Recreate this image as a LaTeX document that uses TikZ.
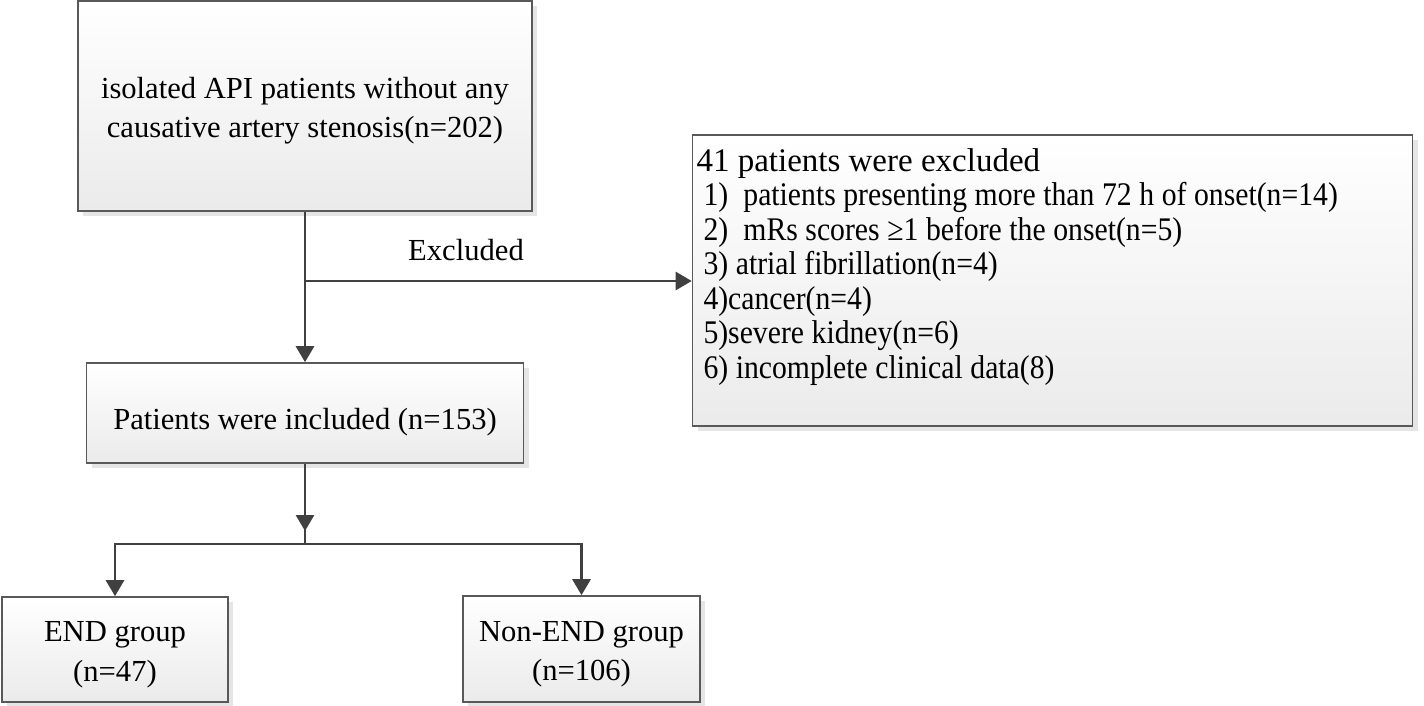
\documentclass[tikz,border=0pt]{standalone}
\usepackage{fontspec}
\setmainfont{Liberation Serif}
\newfontfamily\narrowserif{Liberation Serif}[FakeStretch=0.9]
\usetikzlibrary{arrows.meta,shadows}
\newcommand{\boxtext}[2][2pt]{\raisebox{-#1}[\height][\depth]{\begin{tabular}{@{}c@{}}#2\end{tabular}}}
\begin{document}
\begin{tikzpicture}[x=0.5pt,y=-0.5pt,
  box/.style={draw=black!65,line width=0.8pt,top color=white,bottom color=black!8,
    general shadow={fill=black!10,shadow xshift=2.5pt,shadow yshift=-2.5pt},
    inner sep=0pt,align=center,font=\fontsize{15.3}{19.8}\selectfont},
  conn/.style={draw=black!75,line width=1.4pt},
  arr/.style={-{Triangle[width=9pt,length=8pt]}}]
\useasboundingbox (0,0) rectangle (1424,706);
\node[box,minimum width=227pt,minimum height=105pt] (pop) at (305,106) {\boxtext{isolated API patients without any\\causative artery stenosis(n=202)}};
\node[box,minimum width=218.5pt,minimum height=50pt] (inc) at (305,413) {\boxtext[4.5pt]{Patients were included (n=153)}};
\node[box,text width=356pt,inner xsep=2pt,minimum height=145.5pt,align=left,
  font=\narrowserif\fontsize{16.5}{17.25}\selectfont,
  execute at begin node={\spaceskip=0.23em\relax}] (exc) at (1052.5,280.5)
  {{\rmfamily\spaceskip=0pt 41 patients were excluded}\\
   \hspace*{3.5pt}1)\ \ patients presenting more than 72 h of onset(n=14)\\
   \hspace*{3.5pt}2)\ \ mRs scores ≥1 before the onset(n=5)\\
   \hspace*{3.5pt}3) atrial fibrillation(n=4)\\
   \hspace*{3.5pt}4)cancer(n=4)\\
   \hspace*{3.5pt}5)severe kidney(n=6)\\
   \hspace*{3.5pt}6) incomplete clinical data(8)\\ \mbox{}};
\node[box,minimum width=113pt,minimum height=52.5pt] (endg) at (115,649.5) {\boxtext{END group\\(n=47)}};
\node[box,minimum width=118.5pt,minimum height=53pt] (nonend) at (581.5,649) {\boxtext{Non-END group\\(n=106)}};
\node[font=\fontsize{15.3}{17}\selectfont] (exlab) at (466,250) {Excluded};
\coordinate (branch) at (305,281);
\coordinate (split) at (305,544);
\draw[conn,arr] (pop.south) -- (inc.north);
\draw[conn,arr] (branch) -- (branch -| exc.west);
\draw[conn] (inc.south) -- (split);
\draw[conn,arr,shorten >=6.5pt] (inc.south) -- (split);
\draw[conn,arr] (split) -| (endg.north);
\draw[conn,arr] (split) -| (nonend.north);
\end{tikzpicture}
\end{document}
